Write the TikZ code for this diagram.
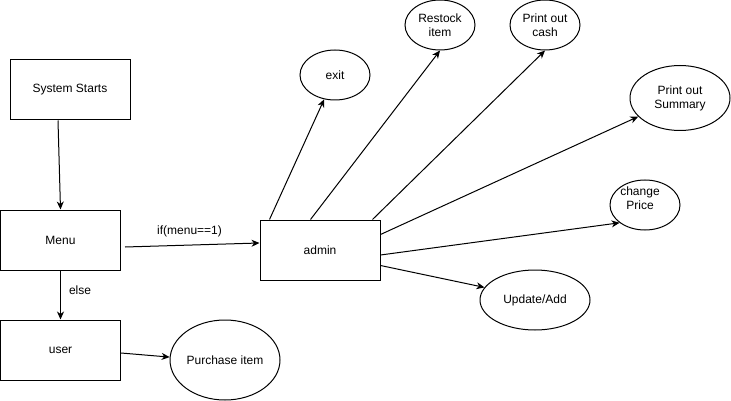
\documentclass[tikz,border=0pt]{standalone}
\usepackage{fontspec}
\setmainfont{Liberation Sans}
\usetikzlibrary{shapes.geometric,arrows.meta}
\begin{document}
\begin{tikzpicture}[x=1pt,y=-1pt,
  every node/.style={font=\fontsize{12}{14}\selectfont},
  box/.style={draw,line width=1pt,rectangle,minimum width=120pt,minimum height=60pt,inner sep=0pt},
  ell/.style={draw,line width=1pt,ellipse,inner sep=0pt,align=center},
  conn/.style={line width=1pt,-{Stealth[length=8pt,width=7pt,inset=2.5pt]}},
  lbl/.style={inner sep=0pt}]
\useasboundingbox (0,0) rectangle (731,401);
\node[box] (sys) at (70,90) {System Starts};
\node[box] (menu) at (60.5,240) {Menu};
\node[box] (user) at (60.5,350) {user};
\node[box] (admin) at (320,250) {admin};
\node[ell,minimum width=110pt,minimum height=80pt] (purch) at (225,360) {Purchase item};
\node[ell,minimum width=70pt,minimum height=50pt] (exit) at (335,75) {exit};
\node[ell,minimum width=70pt,minimum height=50pt] (restock) at (440,25) {Restock\\item};
\node[ell,minimum width=70pt,minimum height=50pt] (cash) at (545,25) {Print out\\cash};
\node[ell,minimum width=100pt,minimum height=65pt] (summ) at (680,98) {Print out\\Summary};
\node[ell,minimum width=70pt,minimum height=50pt] (price) at (645,205) {};
\node[lbl,align=center] (pricetxt) at ([xshift=-5pt,yshift=7pt]price.center) {change\\Price};
\node[ell,minimum width=110pt,minimum height=60pt] (upd) at (535,300) {Update/Add};
\draw[conn] ([xshift=-12pt]sys.south) -- (menu.north);
\draw[conn] ([xshift=4pt,yshift=-7pt]menu.east) -- node[lbl,above=8pt,pos=0.48] (iflbl) {if(menu==1)} ([yshift=7pt]admin.west);
\draw[conn] (menu.south) -- node[lbl,right=8pt,pos=0.4] (elselbl) {else} (user.north);
\draw[conn] ([yshift=-3pt]user.east) -- (purch.177);
\draw[conn] ([xshift=10pt]admin.north west) -- (exit.246);
\draw[conn] ([xshift=51pt]admin.north west) -- (restock.270);
\draw[conn] ([xshift=113pt]admin.north west) -- (cash.270);
\draw[conn] ([yshift=-15pt]admin.north east) -- (summ.204.5);
\draw[conn] ([yshift=-5pt]admin.east) -- (price.215.8);
\draw[conn] ([yshift=15pt]admin.south east) -- (upd.166.2);
\end{tikzpicture}
\end{document}
